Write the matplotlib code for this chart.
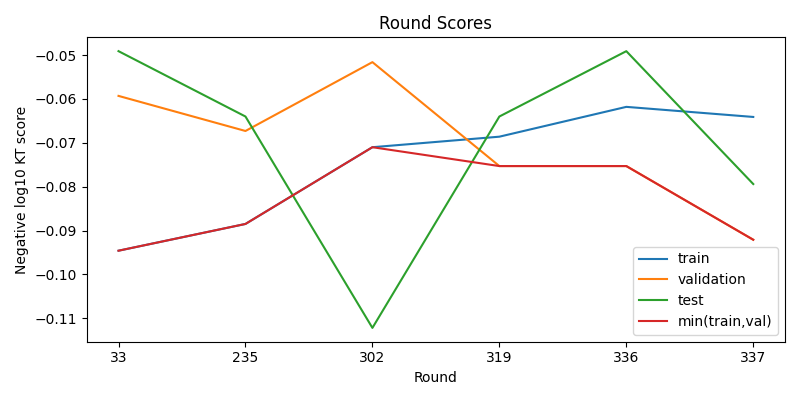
import matplotlib
matplotlib.use("Agg")
import matplotlib.pyplot as plt

rounds = ["33", "235", "302", "319", "336", "337"]
train = [-0.0946, -0.0885, -0.0710, -0.0686, -0.0618, -0.0641]
validation = [-0.0593, -0.0673, -0.0516, -0.0753, -0.0753, -0.0921]
test = [-0.0491, -0.0640, -0.1122, -0.0640, -0.0491, -0.0794]
min_tv = [-0.0946, -0.0885, -0.0710, -0.0753, -0.0753, -0.0921]

fig, ax = plt.subplots(figsize=(8, 4), dpi=100)
x = range(len(rounds))
ax.plot(x, train, label="train")
ax.plot(x, validation, label="validation")
ax.plot(x, test, label="test")
ax.plot(x, min_tv, label="min(train,val)")
ax.set_xticks(list(x))
ax.set_xticklabels(rounds)
ax.set_xlabel("Round")
ax.set_ylabel("Negative log10 KT score")
ax.set_title("Round Scores")
ax.legend(loc="lower right")
fig.tight_layout()
fig.savefig("out.png")
